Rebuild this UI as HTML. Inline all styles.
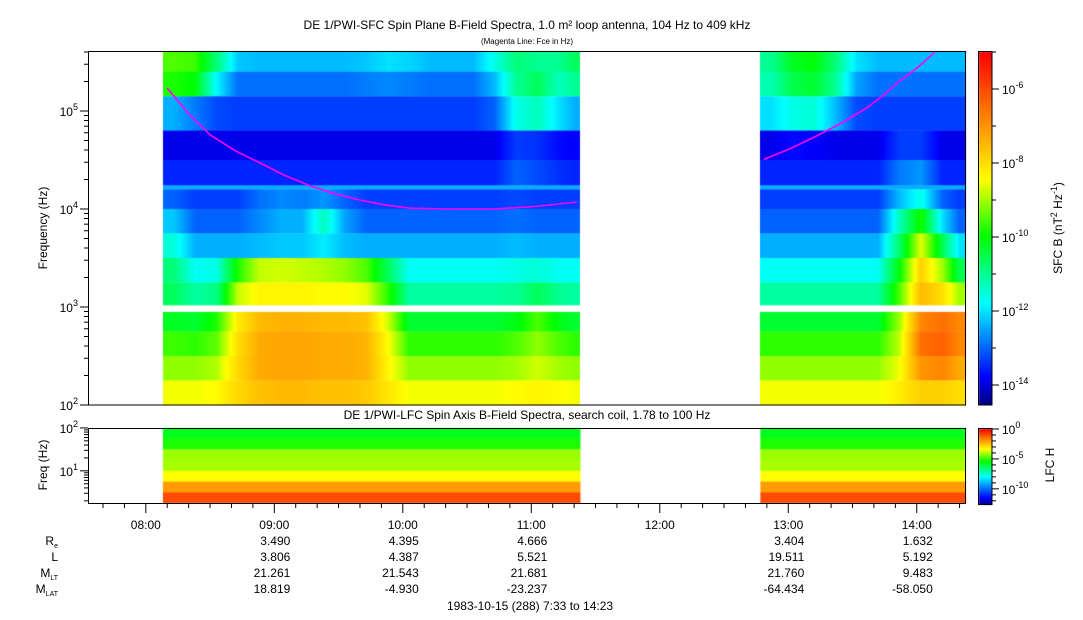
<!DOCTYPE html>
<html><head><meta charset="utf-8">
<style>
html,body{margin:0;padding:0;background:#fff;}
#wrap{position:relative;width:1083px;height:620px;overflow:hidden;font-family:"Liberation Sans",sans-serif;}
canvas,svg{position:absolute;left:0;top:0;}
text{font-family:"Liberation Sans",sans-serif;fill:#000;}
</style></head>
<body>
<div id="wrap">
<canvas id="cv" width="1083" height="620"></canvas>
<svg id="sv" width="1083" height="620">
  <text x="527" y="29" font-size="12" text-anchor="middle">DE 1/PWI-SFC  Spin Plane B-Field Spectra, 1.0 m² loop antenna, 104 Hz to 409 kHz</text>
  <text x="527" y="44" font-size="8" text-anchor="middle">(Magenta Line: Fce in Hz)</text>
  <text x="527" y="419" font-size="12" text-anchor="middle">DE 1/PWI-LFC  Spin Axis B-Field Spectra, search coil, 1.78 to 100 Hz</text>
  <text transform="translate(47,228) rotate(-90)" font-size="12" text-anchor="middle">Frequency (Hz)</text>
  <text transform="translate(47,465) rotate(-90)" font-size="12" text-anchor="middle">Freq (Hz)</text>
  <text transform="translate(1062,228) rotate(-90)" font-size="12" text-anchor="middle">SFC B (nT<tspan dy="-5" font-size="9">2</tspan><tspan dy="5"> Hz</tspan><tspan dy="-5" font-size="9">-1</tspan><tspan dy="5">)</tspan></text>
  <text transform="translate(1054,465) rotate(-90)" font-size="12" text-anchor="middle">LFC H</text>
  <g id="ephem"></g>
  <text x="530" y="610" font-size="12" text-anchor="middle">1983-10-15 (288) 7:33 to 14:23</text>
</svg>
</div>
<script>
// ---- data ----
const rowLo = [5.40,5.15,4.80,4.50,4.24,4.20,4.00,3.75,3.50,3.25,3.02,2.75,2.50,2.25,2.00];
const rowHi = [5.62,5.40,5.15,4.80,4.50,4.24,4.20,4.00,3.75,3.50,3.25,2.95,2.75,2.50,2.25];
const seg1Times = [8.133,8.3,8.467,8.633,8.8,8.967,9.133,9.3,9.467,9.633,9.8,9.967,10.133,10.3,10.467,10.633,10.8,10.967,11.133,11.3];
const seg1End = 11.383;
const seg2Times = [12.783,12.95,13.117,13.283,13.45,13.617,13.783,13.95,14.117,14.283];
const seg2End = 14.383;
const sfcSeg1 = [
[-9.5,-9.6,-10.8,-12.2,-12.3,-12.3,-12.3,-12.3,-12.3,-12.2,-12.0,-12.1,-12.3,-12.3,-12.3,-11.6,-10.8,-11.0,-11.0,-10.6],
[-9.8,-10.0,-11.8,-12.9,-12.9,-12.9,-12.9,-12.9,-12.9,-12.8,-12.7,-12.8,-12.9,-12.9,-12.9,-12.3,-11.0,-10.6,-11.3,-11.0],
[-12.4,-12.8,-13.2,-13.3,-13.3,-13.3,-13.3,-13.3,-13.3,-13.3,-13.3,-13.3,-13.3,-13.3,-13.3,-13.0,-11.6,-11.3,-12.0,-12.4],
[-13.9,-13.9,-13.9,-13.9,-13.9,-13.9,-13.9,-13.9,-13.9,-13.9,-13.9,-13.9,-13.9,-13.9,-13.9,-13.9,-13.3,-13.4,-13.7,-13.8],
[-13.5,-13.5,-13.5,-13.5,-13.5,-13.5,-13.5,-13.5,-13.5,-13.5,-13.5,-13.5,-13.5,-13.5,-13.5,-13.5,-13.0,-13.2,-13.4,-13.5],
[-12.4,-12.4,-12.4,-12.4,-12.4,-12.4,-12.4,-12.4,-12.4,-12.4,-12.4,-12.4,-12.4,-12.4,-12.4,-12.4,-12.4,-12.4,-12.4,-12.4],
[-13.0,-13.3,-13.3,-13.3,-12.9,-12.7,-12.8,-12.6,-13.0,-13.3,-13.3,-13.3,-13.3,-13.3,-13.3,-13.3,-13.2,-13.3,-13.3,-13.3],
[-12.2,-13.0,-13.0,-13.0,-12.7,-12.4,-12.4,-11.3,-12.5,-13.0,-13.0,-13.0,-13.0,-13.0,-13.0,-13.0,-12.9,-13.0,-13.0,-13.0],
[-11.5,-12.4,-12.4,-12.4,-12.3,-12.2,-12.2,-11.9,-12.3,-12.4,-12.4,-12.4,-12.4,-12.4,-12.4,-12.4,-12.3,-12.4,-12.4,-12.4],
[-10.8,-11.7,-11.6,-9.8,-8.8,-8.7,-8.8,-8.9,-9.1,-9.5,-10.6,-11.7,-11.7,-11.7,-11.7,-11.7,-11.6,-11.5,-11.7,-11.7],
[-10.6,-11.1,-10.9,-8.8,-8.3,-8.3,-8.3,-8.4,-8.4,-8.6,-9.7,-11.1,-11.1,-11.1,-11.1,-11.1,-11.0,-10.6,-11.0,-11.1],
[-10.2,-10.3,-9.8,-8.2,-7.5,-7.4,-7.4,-7.5,-7.5,-7.6,-8.7,-10.3,-10.3,-10.3,-10.3,-10.3,-10.1,-9.5,-10.1,-10.3],
[-9.6,-9.7,-9.4,-8.0,-7.3,-7.2,-7.2,-7.3,-7.3,-7.4,-8.4,-9.7,-9.7,-9.7,-9.7,-9.7,-9.5,-9.1,-9.5,-9.7],
[-9.1,-9.1,-8.9,-7.9,-7.3,-7.2,-7.2,-7.3,-7.3,-7.4,-8.3,-9.1,-9.1,-9.1,-9.1,-9.1,-9.0,-8.7,-9.0,-9.1],
[-8.5,-8.5,-8.4,-7.9,-7.6,-7.5,-7.5,-7.6,-7.6,-7.7,-8.1,-8.5,-8.5,-8.5,-8.5,-8.5,-8.4,-8.3,-8.4,-8.5]
];
const sfcSeg2 = [
[-11.0,-10.2,-10.0,-10.8,-12.0,-12.3,-12.3,-12.3,-12.3,-12.3],
[-11.2,-10.5,-10.3,-11.0,-12.5,-12.9,-12.9,-12.9,-12.9,-12.9],
[-12.0,-11.6,-11.5,-12.3,-13.2,-13.3,-13.3,-13.3,-13.3,-13.3],
[-13.9,-13.7,-13.8,-13.9,-13.9,-13.9,-13.3,-13.3,-13.9,-13.9],
[-13.5,-13.5,-13.5,-13.5,-13.5,-13.5,-12.8,-12.6,-13.5,-13.5],
[-12.4,-12.4,-12.4,-12.4,-12.4,-12.4,-12.4,-12.4,-12.4,-12.4],
[-13.3,-13.3,-13.3,-13.3,-13.3,-13.3,-12.3,-11.6,-13.0,-13.3],
[-13.0,-13.0,-13.0,-13.0,-13.0,-13.0,-11.3,-9.8,-12.0,-13.0],
[-12.4,-12.4,-12.4,-12.4,-12.4,-12.4,-10.7,-8.6,-10.5,-12.0],
[-11.7,-11.7,-11.7,-11.7,-11.7,-11.7,-10.0,-7.8,-9.0,-10.5],
[-11.1,-11.1,-11.1,-11.1,-11.1,-11.1,-9.5,-7.5,-8.0,-9.0],
[-10.3,-10.3,-10.3,-10.3,-10.3,-10.3,-9.0,-6.8,-6.5,-6.8],
[-9.7,-9.7,-9.7,-9.7,-9.7,-9.7,-8.8,-6.5,-6.3,-6.8],
[-9.1,-9.1,-9.1,-9.1,-9.1,-9.1,-8.5,-7.0,-6.8,-7.3],
[-8.5,-8.5,-8.5,-8.5,-8.5,-8.5,-8.2,-7.8,-7.8,-8.0]
];
const lfcLo = [1.75,1.5,1.25,1.0,0.75,0.5,0.25];
const lfcHi = [2.0,1.75,1.5,1.25,1.0,0.75,0.5];
const lfcSeg1 = [-5.6,-5.1,-4.1,-4.0,-3.3,-1.9,-0.9];
const lfcSeg2 = [-5.6,-5.1,-4.1,-4.0,-3.3,-1.9,-0.9];
const fceTimes1 = [8.165,8.33,8.50,8.70,8.89,9.08,9.28,9.47,9.67,9.86,10.06,10.38,10.70,11.03,11.355];
const fceHz1 = [172000,95000,57000,39000,29500,22000,17200,14300,12300,11000,10200,10000,10000,10600,11800];
const fceTimes2 = [12.81,13.02,13.22,13.42,13.61,13.74,13.87,14.01,14.14];
const fceHz2 = [32000,41500,55600,76000,107000,145000,204000,280000,398000];
const hourTicks = [8,9,10,11,12,13,14];
const hourLabels = ["08:00","09:00","10:00","11:00","12:00","13:00","14:00"];
const ephemHours = [9,10,11,13,14];
const ephemRe = ["3.490","4.395","4.666","3.404","1.632"];
const ephemL = ["3.806","4.387","5.521","19.511","5.192"];
const ephemMLT = ["21.261","21.543","21.681","21.760","9.483"];
const ephemMLAT = ["18.819","-4.930","-23.237","-64.434","-58.050"];

// ---- axes ----
const T0 = 7.55, T1 = 14.3833, X0 = 88, X1 = 966;
const xOf = t => X0 + (t - T0) / (T1 - T0) * (X1 - X0);
const yMain = lf => 405 - (lf - 2) * 98;
const yLow = lf => 503 - (lf - 0.25) * 42.9;
const SFCMIN = -14.54, SFCMAX = -5.0, LFCMIN = -12.7, LFCMAX = 0;
const sfcStops = [[0,[0,0,127]],[0.08,[0,0,255]],[0.29,[0,255,255]],[0.48,[0,255,0]],[0.64,[255,255,0]],[0.82,[255,128,0]],[1,[255,0,0]]];
const lfcStops = [[0,[0,0,127]],[0.1,[0,0,255]],[0.38,[0,255,255]],[0.58,[0,255,0]],[0.74,[255,255,0]],[0.88,[255,128,0]],[1,[255,0,0]]];
function cmap(stops, f){
  f = Math.max(0, Math.min(1, f));
  for (let i = 1; i < stops.length; i++){
    if (f <= stops[i][0]){
      const a = stops[i-1], b = stops[i], k = (f - a[0]) / (b[0] - a[0]);
      const c = a[1].map((v,j)=>Math.round(v + (b[1][j]-v)*k));
      return `rgb(${c[0]},${c[1]},${c[2]})`;
    }
  }
  return 'rgb(255,0,0)';
}
const cv = document.getElementById('cv');
const ctx = cv.getContext('2d');

function drawSeg(times, end, mat){
  const centers = times.map((t,i)=> (t + (i+1<times.length ? times[i+1] : end))/2);
  const xa = Math.round(xOf(times[0])), xb = Math.round(xOf(end));
  for (let x = xa; x < xb; x++){
    const t = T0 + (x + 0.5 - X0) / (X1 - X0) * (T1 - T0);
    let i = 0;
    while (i < centers.length - 1 && centers[i+1] < t) i++;
    let k = 0, j = i;
    if (t > centers[i] && i < centers.length - 1){ j = i+1; k = (t - centers[i])/(centers[j]-centers[i]); }
    for (let r = 0; r < mat.length; r++){
      const v = mat[r][i] + (mat[r][j] - mat[r][i]) * k;
      ctx.fillStyle = cmap(sfcStops, (v - SFCMIN)/(SFCMAX - SFCMIN));
      const y1 = Math.max(51, yMain(rowHi[r])), y2 = yMain(rowLo[r]);
      ctx.fillRect(x, y1, 1, y2 - y1 + 0.3);
    }
  }
}
drawSeg(seg1Times, seg1End, sfcSeg1);
drawSeg(seg2Times, seg2End, sfcSeg2);

function drawLfc(t0, t1, vals){
  for (let b = 0; b < vals.length; b++){
    ctx.fillStyle = cmap(lfcStops, (vals[b]-LFCMIN)/(LFCMAX-LFCMIN));
    const y1 = yLow(lfcHi[b]), y2 = yLow(lfcLo[b]);
    ctx.fillRect(xOf(t0), y1, xOf(t1)-xOf(t0), y2-y1+0.3);
  }
}
drawLfc(seg1Times[0], seg1End, lfcSeg1);
drawLfc(seg2Times[0], seg2End, lfcSeg2);

// colorbars
for (let y = 52; y < 405; y++){
  const v = SFCMIN + (405 - y)/(405-52)*(SFCMAX-SFCMIN);
  ctx.fillStyle = cmap(sfcStops, (v-SFCMIN)/(SFCMAX-SFCMIN));
  ctx.fillRect(979, y, 13, 1);
}
for (let y = 429; y < 505; y++){
  const v = LFCMIN + (505 - y)/(505-429)*(LFCMAX-LFCMIN);
  ctx.fillStyle = cmap(lfcStops, (v-LFCMIN)/(LFCMAX-LFCMIN));
  ctx.fillRect(979, y, 13, 1);
}

// ---- SVG overlay ----
const NS = 'http://www.w3.org/2000/svg';
const sv = document.getElementById('sv');
function mk(tag, attrs, parent){
  const e = document.createElementNS(NS, tag);
  for (const k in attrs) e.setAttribute(k, attrs[k]);
  (parent||sv).appendChild(e);
  return e;
}
function pow10(x, y, exp, anchor, size){
  const t = mk('text', {x:x, y:y, 'font-size':size||12, 'text-anchor':anchor||'end'});
  
  
  t.appendChild(document.createTextNode('10'));
  const s = document.createElementNS(NS,'tspan');
  s.setAttribute('dy','-6'); s.setAttribute('font-size','9');
  s.textContent = exp;
  t.appendChild(s);
  return t;
}
// frames
let f = mk('rect',{x:88.5,y:51.5,width:877,height:353.5,fill:'none',stroke:'#000','stroke-width':1});


f = mk('rect',{x:88.5,y:428.5,width:877,height:75,fill:'none',stroke:'#000','stroke-width':1});


f = mk('rect',{x:978.5,y:51.5,width:13.5,height:353.5,fill:'none',stroke:'#000'});


f = mk('rect',{x:978.5,y:428.5,width:13.5,height:76,fill:'none',stroke:'#000'});



// main y ticks
for (let d = 2; d <= 5; d++){
  for (let m = 1; m <= 9; m++){
    const lf = d + Math.log10(m);
    if (lf > 5.612) continue;
    const y = yMain(lf);
    const l = mk('line',{x1:88,x2:m===1?80:84,y1:y,y2:y,stroke:'#000'});
    
    
  }
  pow10(78, yMain(d)+5, String(d));
}
// lower y ticks
for (let d = 0; d <= 2; d++){
  for (let m = 1; m <= 9; m++){
    const lf = d + Math.log10(m);
    if (lf < 0.25 || lf > 2.001) continue;
    const y = yLow(lf);
    const l = mk('line',{x1:88,x2:m===1?80:84,y1:y,y2:y,stroke:'#000'});
    
    
  }
  if (d >= 1) pow10(78, yLow(d)+5, String(d));
}
// colorbar ticks
for (let e = -14; e <= -5; e++){
  const y = 405 - (e - SFCMIN)/(SFCMAX-SFCMIN)*(405-52);
  const l = mk('line',{x1:992,x2:e%2===0?999:996,y1:y,y2:y,stroke:'#000'});
  
  
  if (e % 2 === 0) pow10(1002, y+5, String(e), 'start');
}
for (let e = -12; e <= 0; e++){
  const y = 505 - (e - LFCMIN)/(LFCMAX-LFCMIN)*(505-429);
  const l = mk('line',{x1:992,x2:e%5===0?999:996,y1:y,y2:y,stroke:'#000'});
  
  
  if (e % 5 === 0) pow10(1002, y+5, String(e), 'start');
}
// time ticks
for (let m = 0; m <= 410; m += 10){
  const t = 7 + 40/60 + m/60;
  if (t > T1) break;
  const x = xOf(t);
  const major = Math.abs(t - Math.round(t)) < 1e-6;
  const l = mk('line',{x1:x,x2:x,y1:504,y2:major?513:508,stroke:'#000'});
  
  
}
hourTicks.forEach((h,i)=>{
  const t = mk('text',{x:xOf(h),y:529,'font-size':12,'text-anchor':'middle'});
  
  
  t.textContent = hourLabels[i];
});
// Fce lines
function fce(times, hz){
  const pts = times.map((t,i)=> xOf(t).toFixed(1)+','+yMain(Math.log10(hz[i])).toFixed(1)).join(' ');
  const p = mk('polyline',{points:pts,fill:'none',stroke:'#ff00ff','stroke-width':1.6});
  
  
}
fce(fceTimes1, fceHz1);
fce(fceTimes2, fceHz2);
// ephemeris
const eg = document.getElementById('ephem');
const labs = [['R','e'],['L',''],['M','LT'],['M','LAT']];
const rowsY = [545,561,577,593];
labs.forEach((lb,i)=>{
  const t = mk('text',{x:58,y:rowsY[i],'font-size':12,'text-anchor':'end'}, eg);
  
  
  t.appendChild(document.createTextNode(lb[0]));
  if (lb[1]){ const s=document.createElementNS(NS,'tspan'); s.setAttribute('dy','3'); s.setAttribute('font-size','7'); s.textContent=lb[1]; t.appendChild(s); }
});
const cols = [ephemRe, ephemL, ephemMLT, ephemMLAT];
ephemHours.forEach((h,j)=>{
  cols.forEach((arr,i)=>{
    const t = mk('text',{x:xOf(h)+16,y:rowsY[i],'font-size':12,'text-anchor':'end'}, eg);
    
    
    t.textContent = arr[j];
  });
});
</script>
</body></html>
